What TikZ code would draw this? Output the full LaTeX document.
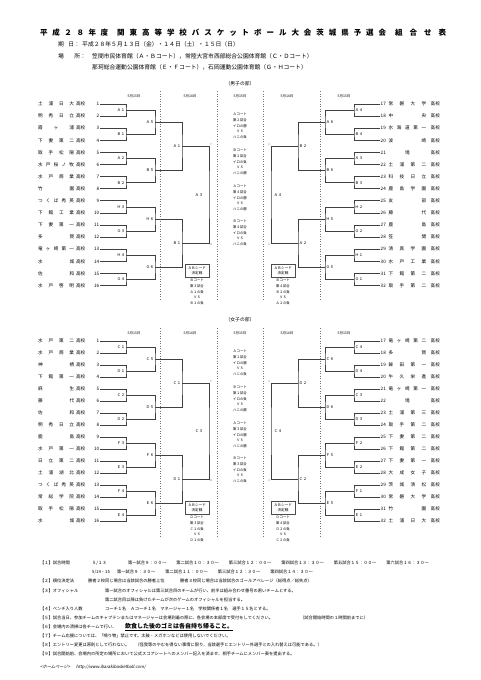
\documentclass[tikz,border=0pt]{standalone}
\usepackage{fontspec}
\setmainfont{Noto Sans CJK JP}
\newfontfamily\slantjp[FakeSlant=0.2]{Noto Sans CJK JP}
\usetikzlibrary{calc,positioning}

% rows of the team lists
\newcommand{\lrow}[2]{\makebox[36pt][s]{#1}\hspace{2pt}高校\makebox[14pt][r]{#2}}
\newcommand{\rrow}[2]{\makebox[8pt][l]{#2}\makebox[37.5pt][s]{#1}\hspace{4.5pt}高校}

\begin{document}
\begin{tikzpicture}[x=1pt, y=-1pt,
    title/.style={anchor=west, inner sep=0pt, font=\fontsize{7.5}{8}\selectfont\bfseries},
    head/.style={anchor=west, inner sep=0pt, font=\fontsize{5.8}{6}\selectfont},
    part/.style={inner sep=0pt, font=\fontsize{4.8}{5}\selectfont},
    day/.style={inner sep=0pt, font=\fontsize{3.5}{4}\selectfont},
    team/.style={inner sep=0.5pt, font=\fontsize{4.6}{5}\selectfont},
    lab/.style={inner sep=1pt, font=\fontsize{3.8}{4}\selectfont},
    wire/.style={draw=black!75, line width=0.65pt},
    divider/.style={draw=black!55, dotted, line width=0.5pt},
    game/.style={align=center, inner sep=0pt, font=\fontsize{3.4}{5.8}\selectfont},
    seedbox/.style={draw=black!70, line width=0.5pt, align=center, inner sep=1pt, minimum width=24pt, minimum height=13pt, font=\fontsize{3.6}{4.8}\selectfont},
    tick/.style={inner sep=0.3pt, font=\fontsize{2.6}{3}\selectfont, text=black!60},
    note/.style={anchor=west, inner sep=0pt, font=\fontsize{4.25}{5}\selectfont}
]
\path[use as bounding box, fill=white] (0,0) rectangle (481,680);

% header
\node[title] (title1) at (40,33) {\makebox[68pt][s]{平 成 ２ ８ 年 度}};
\node[title] (title2) at (117,33) {\makebox[269pt][s]{関 東 高 等 学 校 バ ス ケ ッ ト ボ ー ル 大 会 茨 城 県 予 選 会}};
\node[title] (title3) at (395,33) {\makebox[51pt][s]{組 合 せ 表}};
\node[head] (datelab) at (58,44) {\makebox[16pt][s]{期 日}：};
\node[head] (datetxt) at (82,44) {平成２８年５月１３日（金）・１４日（土）・１５日（日）};
\node[head] (venlab) at (58,56) {\makebox[22pt][s]{場 所}：};
\node[head] (ventxt1) at (92,56) {笠間市民体育館（Ａ・Ｂコート），常陸大宮市西部総合公園体育館（Ｃ・Ｄコート）};
\node[head] (ventxt2) at (92,67) {那珂総合運動公園体育館（Ｅ・Ｆコート），石岡運動公園体育館（Ｇ・Ｈコート）};

\node[part] (menpart) at (240,84) {（男子の部）};
\node[part] (wompart) at (240,320) {（女子の部）};

% days and dotted dividers
\foreach \x/\d in {134/13, 190/14, 240/15, 287/14, 344/13} {
  \node[day] (md\x) at (\x,96) {5月\d{}日};
  \node[day] (wd\x) at (\x,333) {5月\d{}日};
}
\foreach \x in {160,217,263,320} {
  \draw[divider] (\x,91) -- (\x,300);
  \draw[divider] (\x,328) -- (\x,537);
}

% teams
\foreach \tn [count=\n] in {土 浦 日 大, 明 秀 日 立, 霞 ヶ 浦, 下 妻 第 二, 取 手 松 陽, 水 戸 桜 ノ 牧, 水 戸 商 業, 竹 園, つ く ば 秀 英, 下 館 工 業, 下 妻 第 一, 多 賀, 竜 ヶ 崎 第 一, 水 城, 佐 和, 水 戸 啓 明}
  \node[team, anchor=east] (ml\n) at (100,{104+(\n-1)*12.1}) {\lrow{\tn}{\n}};
\foreach \tn [count=\n from 17] in {常 磐 大 学, 中 央, 水 海 道 第 一, 波 崎, {\hfil 境\hfil}, 土 浦 第 二, 科 技 日 立, 鹿 島 学 園, 友 部, 藤 代, 鹿 島, 笠 間, 清 真 学 園, 水 戸 工 業, 下 館 第 二, 取 手 第 二}
  \node[team, anchor=west] (mr\n) at (380,{104+(\n-17)*12.1}) {\rrow{\tn}{\n}};
\foreach \tn [count=\n] in {水 戸 第 二, 水 戸 商 業, 神 栖, 下 館 第 一, 麻 生, 藤 代, 佐 和, 明 秀 日 立, 鹿 島, 水 戸 第 一, 日 立 第 二, 土 浦 湖 北, つ く ば 秀 英, 常 総 学 院, 取 手 松 陽, 水 城}
  \node[team, anchor=east] (wl\n) at (100,{341+(\n-1)*12}) {\lrow{\tn}{\n}};
\foreach \tn [count=\n from 17] in {竜 ヶ 崎 第 二, 多 賀, 鉾 田 第 一, 牛 久 栄 進, 竜 ヶ 崎 第 一, {\hfil 境\hfil}, 土 浦 第 三, 取 手 第 二, 下 妻 第 二, 下 館 第 二, 下 妻 第 一, 大 成 女 子, 茨 城 清 松, 常 磐 大 学, 竹 園, 土 浦 日 大}
  \node[team, anchor=west] (wr\n) at (380,{341+(\n-17)*12}) {\rrow{\tn}{\n}};

% brackets
\foreach \p/\yo/\dy/\sg/\off in {ml/104/12.1/-1/0, mr/104/12.1/1/16, wl/341/12/-1/0, wr/341/12/1/16} {
  \foreach \k in {1,...,8} {
    \pgfmathtruncatemacro\ia{2*\k-1+\off}
    \pgfmathtruncatemacro\ib{2*\k+\off}
    \coordinate (\p-\k) at ({240+\sg*114},{\yo+(2*\k-1.5)*\dy});
    \draw[wire] (\p\ia) -| (\p-\k) |- (\p\ib);
  }
  \foreach \k in {1,...,4} {
    \pgfmathtruncatemacro\ia{2*\k-1}
    \pgfmathtruncatemacro\ib{2*\k}
    \pgfmathtruncatemacro\ic{8+\k}
    \coordinate (\p-\ic) at ({240+\sg*85},{\yo+(4*\k-2.5)*\dy});
    \draw[wire] (\p-\ia) -| (\p-\ic) |- (\p-\ib);
  }
  \foreach \k in {1,2} {
    \pgfmathtruncatemacro\ia{8+2*\k-1}
    \pgfmathtruncatemacro\ib{8+2*\k}
    \pgfmathtruncatemacro\ic{12+\k}
    \coordinate (\p-\ic) at ({240+\sg*58},{\yo+(8*\k-4.5)*\dy});
    \draw[wire] (\p-\ia) -| (\p-\ic) |- (\p-\ib);
  }
  \coordinate (\p-15) at ({240+\sg*31},{\yo+7.5*\dy});
  \draw[wire] (\p-13) -| (\p-15) |- (\p-14);
}

% game labels
\foreach \lb [count=\m] in {Ａ１,Ｂ１,Ａ２,Ｂ２,Ｈ３,Ｇ３,Ｈ４,Ｇ４,Ａ５,Ｂ５,Ｈ６,Ｇ６,Ａ１,Ｂ１}
  \node[lab, anchor=east] (mlL\m) at (ml-\m) {\lb};
\foreach \lb [count=\m] in {Ａ４,Ｂ４,Ａ３,Ｂ３,Ｈ２,Ｇ２,Ｈ１,Ｇ１,Ａ６,Ｂ６,Ｈ５,Ｇ５,Ｂ２,Ａ２}
  \node[lab, anchor=west] (mrL\m) at (mr-\m) {\lb};
\foreach \lb [count=\m] in {Ｃ１,Ｄ１,Ｃ２,Ｄ２,Ｆ３,Ｅ３,Ｆ４,Ｅ４,Ｃ５,Ｄ５,Ｆ６,Ｅ６,Ｃ１,Ｄ１}
  \node[lab, anchor=east] (wlL\m) at (wl-\m) {\lb};
\foreach \lb [count=\m] in {Ｃ４,Ｄ４,Ｃ３,Ｄ３,Ｆ２,Ｅ２,Ｆ１,Ｅ１,Ｃ６,Ｄ６,Ｆ５,Ｅ５,Ｄ２,Ｃ２}
  \node[lab, anchor=west] (wrL\m) at (wr-\m) {\lb};
\node[lab, anchor=east, xshift=-5pt] (mlL15) at (ml-15) {Ａ３};
\node[lab, anchor=west, xshift=2pt] (mrL15) at (mr-15) {Ａ４};
\node[lab, anchor=east, xshift=-5pt] (wlL15) at (wl-15) {Ｃ３};
\node[lab, anchor=west, xshift=2pt] (wrL15) at (wr-15) {Ｃ４};

% i ro ha ni marks
\foreach \p in {ml,wl} {
  \node[tick, anchor=south west] (\p I) at (\p-13 -| \p-15) {イ};
  \node[tick, anchor=north west] (\p R) at (\p-14 -| \p-15) {ロ};
}
\foreach \p in {mr,wr} {
  \node[tick, anchor=south east] (\p H) at (\p-13 -| \p-15) {ハ};
  \node[tick, anchor=north east] (\p N) at (\p-14 -| \p-15) {ニ};
}

% day 3 games
\node[game] (mc1) at (240,126) {Ａコート\\第２試合\\イロの勝\\ＶＳ\\ハニの負};
\node[game] (mc2) at (240,162) {Ｂコート\\第２試合\\イロの負\\ＶＳ\\ハニの勝};
\node[game] (mc3) at (240,198) {Ａコート\\第４試合\\イロの勝\\ＶＳ\\ハニの勝};
\node[game] (mc4) at (240,233) {Ｂコート\\第４試合\\イロの負\\ＶＳ\\ハニの負};
\node[game] (wc1) at (240,363) {Ａコート\\第１試合\\イロの勝\\ＶＳ\\ハニの負};
\node[game] (wc2) at (240,399) {Ｂコート\\第１試合\\イロの負\\ＶＳ\\ハニの勝};
\node[game] (wc3) at (240,435) {Ａコート\\第３試合\\イロの勝\\ＶＳ\\ハニの勝};
\node[game] (wc4) at (240,470) {Ｂコート\\第３試合\\イロの負\\ＶＳ\\ハニの負};

% seed games
\node[seedbox] (mlSeed) at (197,270.5) {ＡＢシード\\決定戦};
\node[game, below=1.5pt of mlSeed] (mlSeedGame) {Ｂコート\\第３試合\\Ａ１の負\\ＶＳ\\Ｂ１の負};
\node[seedbox] (mrSeed) at (283,270.5) {ＡＢシード\\決定戦};
\node[game, below=1.5pt of mrSeed] (mrSeedGame) {Ｂコート\\第４試合\\Ｂ２の負\\ＶＳ\\Ａ２の負};
\node[seedbox] (wlSeed) at (197,507.5) {ＡＢシード\\決定戦};
\node[game, below=1.5pt of wlSeed] (wlSeedGame) {Ｄコート\\第３試合\\Ｃ１の負\\ＶＳ\\Ｄ１の負};
\node[seedbox] (wrSeed) at (283,507.5) {ＡＢシード\\決定戦};
\node[game, below=1.5pt of wrSeed] (wrSeedGame) {Ｄコート\\第４試合\\Ｄ２の負\\ＶＳ\\Ｃ２の負};

% notes
\node[note] (n1) at (40,563) {【１】試合時間};
\node[note] (n1d) at (92,563) {５/１３};
\node[note] (n1t) at (128,563) {第一試合９：００～\hspace{10pt}第二試合１０：３０～\hspace{10pt}第三試合１２：００～\hspace{10pt}第四試合１３：３０～\hspace{10pt}第五試合１５：００～\hspace{10pt}第六試合１６：３０～};
\node[note] (n1e) at (92,572) {5/14・15};
\node[note] (n1u) at (117,572) {第一試合９：３０～\hspace{10pt}第二試合１１：００～\hspace{10pt}第三試合１２：３０～\hspace{10pt}第四試合１４：３０～};
\node[note] (n2) at (40,581) {【２】順位決定法};
\node[note] (n2a) at (88,581) {勝者２校同じ場合は当該試合の勝者上位};
\node[note] (n2b) at (180,581) {勝者３校同じ場合は当該試合のゴールアベレージ（総得点／総失点）};
\node[note] (n3) at (40,590.5) {【３】オフィシャル};
\node[note] (n3a) at (105,590.5) {第一試合のオフィシャルは第三試合目のチームが行い、前半は組み合わせ番号の若いチームとする。};
\node[note] (n3b) at (105,599.5) {第二試合目以降は負けたチームが次のゲームのオフィシャルを担当する。};
\node[note] (n4) at (40,609) {【４】ベンチ入り人数};
\node[note] (n4a) at (105,609) {コーチ１名　Ａコーチ１名　マネージャー１名　学校関係者１名　選手１５名とする。};
\node[note] (n5) at (40,618) {【５】試合当日、参加チームのキャプテンまたはマネージャーは会場到着の際に、各会場の本部席で受付をしてください。};
\node[note] (n5a) at (300,618) {（試合開始時間の１時間前までに）};
\node[note] (n6) at (40,627) {【６】会場内の清掃は各チームで行い、};
\node[note, font=\fontsize{6}{6}\selectfont\bfseries] (n6a) at (125,627) {\underline{飲食した後のゴミは各自持ち帰ること。}};
\node[note] (n7) at (40,636) {【７】チーム応援については、「鳴り物」禁止です。太鼓・メガホンなどは使用しないでください。};
\node[note] (n8) at (40,645) {【８】エントリー変更は原則として行わない。\hspace{6pt}（怪我等のやむを得ない事情に限り，当該選手とエントリー外選手との入れ替えは可能である。）};
\node[note] (n9) at (40,654) {【９】試合開始前、会場内の所定の場所において公式スコアシートへのメンバー記入を済ませ、相手チームにメンバー表を提出する。};
\node[note, font=\fontsize{4.25}{5}\slantjp] (web) at (40,667) {<ホームページ>\hspace{6pt}http://www.ibarakibasketball.com/};
\end{tikzpicture}
\end{document}
